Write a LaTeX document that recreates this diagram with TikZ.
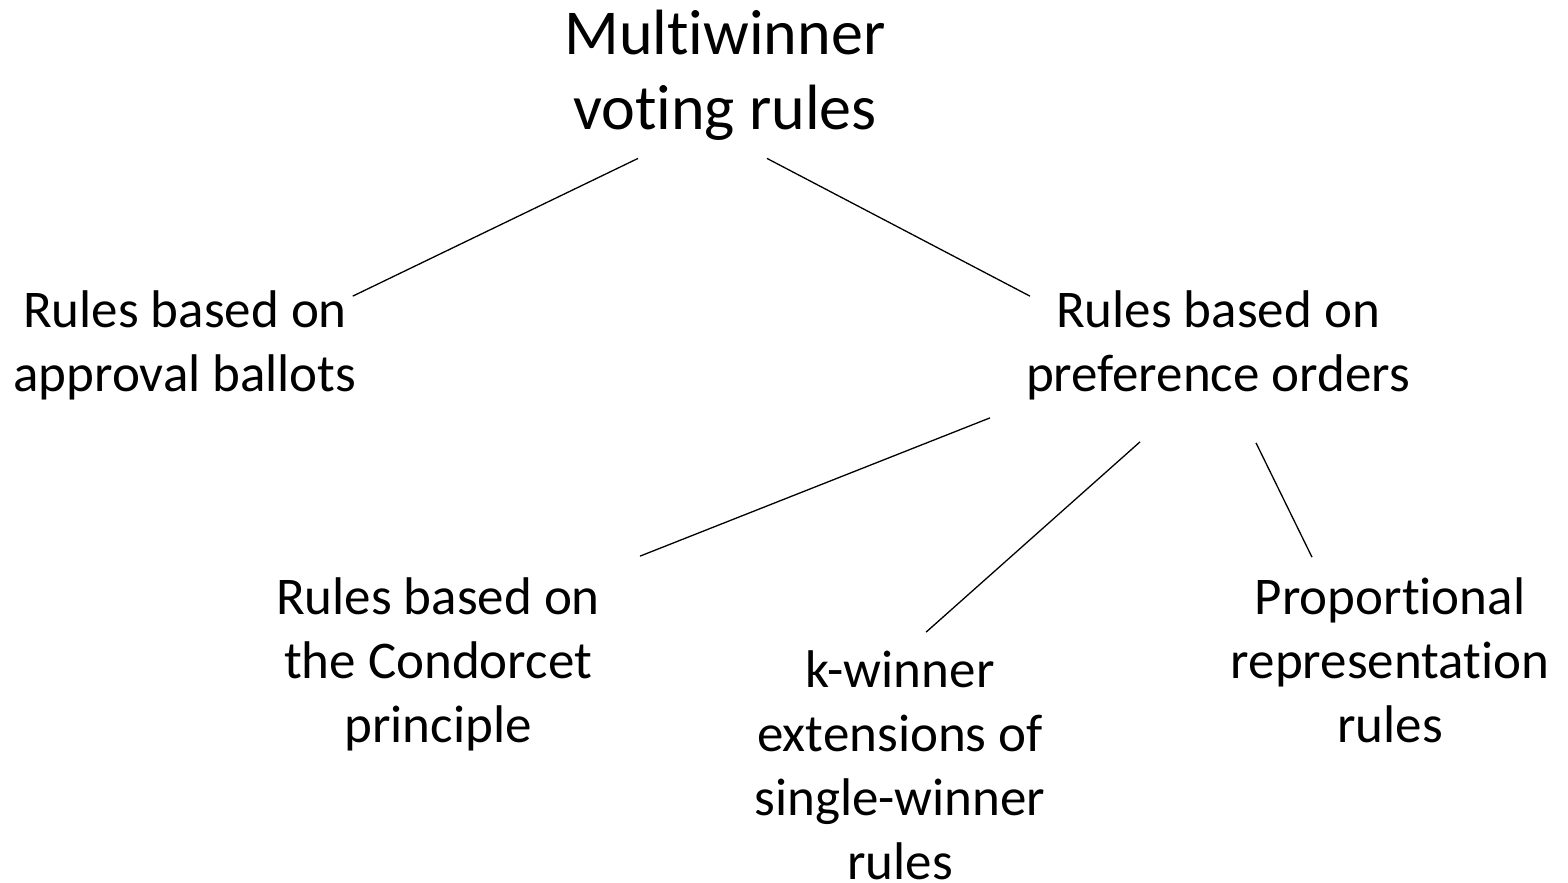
\documentclass[tikz,border=0pt]{standalone}
\usepackage{fontspec}
\setmainfont{Carlito}[Ligatures=NoCommon]
\usetikzlibrary{positioning}
\begin{document}
\begin{tikzpicture}[x=1pt,y=-1pt,
  every node/.style={align=center,inner sep=0pt,font=\fontsize{53}{64}\selectfont},
  rootbox/.style={font=\fontsize{64}{75}\selectfont},
  link/.style={line width=1.3pt}]
\useasboundingbox (0,0) rectangle (1568,883);
% the tree, top to bottom
\node[rootbox] (root) at (725,75) {Multiwinner\\voting rules};
\node (approval) at (185,345) {Rules based on\\approval ballots};
\node (preference) at (1218,345) {Rules based on\\preference orders};
\node (condorcet) at (438,664) {Rules based on\\the Condorcet\\principle};
\node (kwinner) at (900,765) {k-winner\\extensions of\\single-winner\\rules};
\node (proportional) at (1390,660) {Proportional\\representation\\rules};
% connectors
\draw[link] ([xshift=-87pt,yshift=-18pt]root.south) -- ([xshift=-4pt,yshift=-6pt]approval.north east);
\draw[link] ([xshift=42pt,yshift=-18pt]root.south) -- ([xshift=4pt,yshift=-6pt]preference.north west);
\draw[link] ([xshift=-228pt,yshift=-18pt]preference.south) -- ([xshift=202pt,yshift=21pt]condorcet.north);
\draw[link] ([xshift=-78pt,yshift=-42pt]preference.south) -- ([xshift=26pt,yshift=18pt]kwinner.north);
\draw[link] ([xshift=38pt,yshift=-43pt]preference.south) -- ([xshift=-78pt,yshift=20pt]proportional.north);
\end{tikzpicture}
\end{document}
